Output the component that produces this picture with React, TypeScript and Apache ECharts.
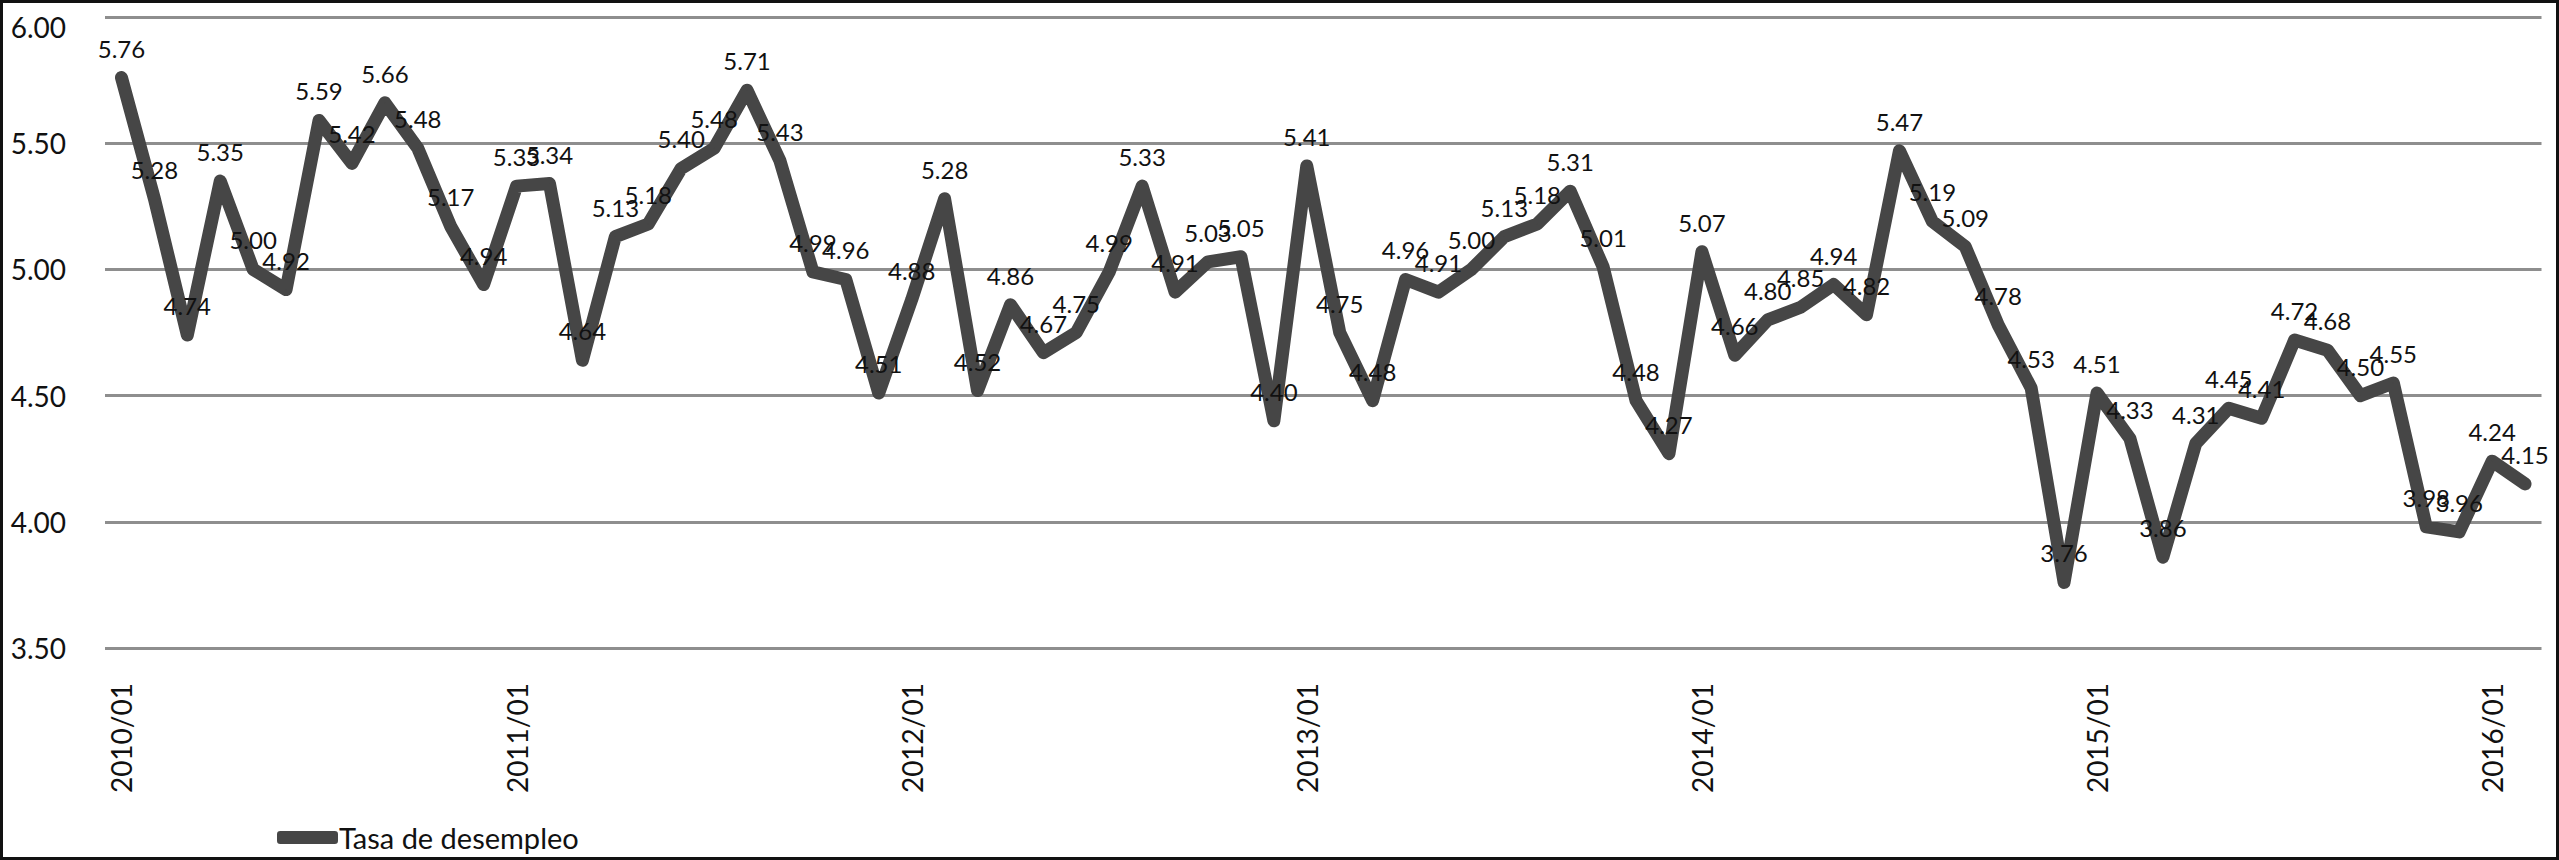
import React, { useEffect, useRef } from "react";
import * as echarts from "echarts";

const categories: string[] = [
  "2010/01", "2010/02", "2010/03", "2010/04", "2010/05", "2010/06", "2010/07", "2010/08", "2010/09", "2010/10", "2010/11", "2010/12",
  "2011/01", "2011/02", "2011/03", "2011/04", "2011/05", "2011/06", "2011/07", "2011/08", "2011/09", "2011/10", "2011/11", "2011/12",
  "2012/01", "2012/02", "2012/03", "2012/04", "2012/05", "2012/06", "2012/07", "2012/08", "2012/09", "2012/10", "2012/11", "2012/12",
  "2013/01", "2013/02", "2013/03", "2013/04", "2013/05", "2013/06", "2013/07", "2013/08", "2013/09", "2013/10", "2013/11", "2013/12",
  "2014/01", "2014/02", "2014/03", "2014/04", "2014/05", "2014/06", "2014/07", "2014/08", "2014/09", "2014/10", "2014/11", "2014/12",
  "2015/01", "2015/02", "2015/03", "2015/04", "2015/05", "2015/06", "2015/07", "2015/08", "2015/09", "2015/10", "2015/11", "2015/12",
  "2016/01", "2016/02",
];

const values2010: number[] = [5.76, 5.28, 4.74, 5.35, 5.0, 4.92, 5.59, 5.42, 5.66, 5.48, 5.17, 4.94];
const values2011: number[] = [5.33, 5.34, 4.64, 5.13, 5.18, 5.4, 5.48, 5.71, 5.43, 4.99, 4.96, 4.51];
const values2012: number[] = [4.88, 5.28, 4.52, 4.86, 4.67, 4.75, 4.99, 5.33, 4.91, 5.03, 5.05, 4.4];
const values2013: number[] = [5.41, 4.75, 4.48, 4.96, 4.91, 5.0, 5.13, 5.18, 5.31, 5.01, 4.48, 4.27];
const values2014: number[] = [5.07, 4.66, 4.8, 4.85, 4.94, 4.82, 5.47, 5.19, 5.09, 4.78, 4.53, 3.76];
const values2015: number[] = [4.51, 4.33, 3.86, 4.31, 4.45, 4.41, 4.72, 4.68, 4.5, 4.55, 3.98, 3.96];
const values2016: number[] = [4.24, 4.15];

const seriesName = "Tasa de desempleo";
const yMin = 3.5;
const yMax = 6.0;
const yInterval = 0.5;

const unemployment: number[] = [
  ...values2010, ...values2011, ...values2012, ...values2013,
  ...values2014, ...values2015, ...values2016,
];

const FONT = "Lato, 'Open Sans', sans-serif";
const LINE_COLOR = "#464646";

export default function App() {
  const ref = useRef<HTMLDivElement>(null);

  useEffect(() => {
    document.body.style.margin = "0";
    if (!ref.current) return;
    const chart = echarts.init(ref.current, null, { renderer: "svg" });
    chart.setOption({
      animation: false,
      backgroundColor: "#ffffff",
      textStyle: { fontFamily: FONT },
      grid: { left: 105, right: 17.5, top: 17, bottom: 212, containLabel: false },
      legend: {
        show: true,
        left: 272,
        top: 818,
        icon: "roundRect",
        itemWidth: 61,
        itemHeight: 13,
        itemGap: 4,
        textStyle: { fontFamily: FONT, fontSize: 29, color: "#111111", padding: [0, 0, 0, -4] },
        data: [seriesName],
      },
      xAxis: {
        type: "category",
        data: categories,
        boundaryGap: true,
        axisLine: { show: false },
        axisTick: { show: false },
        axisLabel: {
          interval: 11,
          rotate: 90,
          margin: 35,
          fontSize: 28,
          color: "#111111",
          fontFamily: FONT,
        },
        splitLine: { show: false },
      },
      yAxis: {
        type: "value",
        min: yMin,
        max: yMax,
        interval: yInterval,
        axisLine: { show: false },
        axisTick: { show: false },
        axisLabel: {
          margin: 39,
          fontSize: 28,
          color: "#111111",
          fontFamily: FONT,
          formatter: (v: number) => (v >= yMax ? "{t|" + v.toFixed(2) + "}" : v.toFixed(2)),
          rich: {
            t: { fontSize: 28, color: "#111111", fontFamily: FONT, padding: [20, 0, 0, 0] },
          },
        },
        splitLine: { show: true, lineStyle: { color: "#8e8e8e", width: 3 } },
      },
      series: [
        {
          name: seriesName,
          type: "line",
          data: unemployment,
          symbol: "circle",
          symbolSize: 1,
          showSymbol: true,
          itemStyle: { color: LINE_COLOR },
          lineStyle: { color: LINE_COLOR, width: 13, cap: "round", join: "round" },
          label: {
            show: true,
            position: "top",
            distance: 17,
            fontSize: 24,
            color: "#111111",
            fontFamily: FONT,
            formatter: (p: any) => Number(p.value).toFixed(2),
          },
          labelLayout: { hideOverlap: false },
        },
      ],
      graphic: [
        {
          type: "rect",
          silent: true,
          z: 100,
          shape: { x: 1.5, y: 1.5, width: 2556, height: 857 },
          style: { fill: "none", stroke: "#111111", lineWidth: 3 },
        },
      ],
    });
    return () => chart.dispose();
  }, []);

  return <div ref={ref} style={{ width: 2559, height: 860 }} />;
}
